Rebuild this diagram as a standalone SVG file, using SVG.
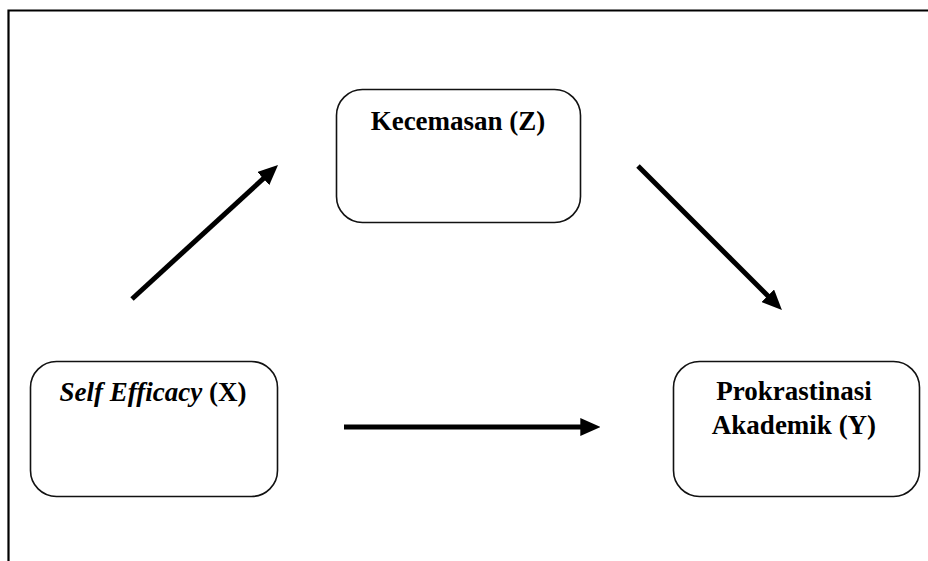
<svg xmlns="http://www.w3.org/2000/svg" width="928" height="561" viewBox="0 0 928 561">
<style>
.box{fill:#fff;stroke:#111;stroke-width:1.6}
.lbl{font-family:"Liberation Serif","Times New Roman",serif;font-size:27px;font-weight:bold;fill:#000}
.conn{stroke:#000;stroke-width:5;fill:none}
.frame{stroke:#000;stroke-width:2.2;fill:none}
</style>
<defs>
<marker id="ah" markerUnits="userSpaceOnUse" markerWidth="20" markerHeight="18" refX="6" refY="8" orient="auto" viewBox="0 0 18 16">
<path d="M0,0 L18,8 L0,16 Z" fill="#000"/>
</marker>
</defs>
<g id="frame">
<path class="frame" d="M928,10.5 H8.5 V561"/>
</g>
<g id="node-z">
<rect class="box" x="336.5" y="89.5" width="244" height="133" rx="26"/>
<text class="lbl" x="458" y="130" text-anchor="middle">Kecemasan (Z)</text>
</g>
<g id="node-x">
<rect class="box" x="30.5" y="361.5" width="247" height="135" rx="26"/>
<text class="lbl" x="153" y="401" text-anchor="middle"><tspan font-style="italic">Self Efficacy</tspan> (X)</text>
</g>
<g id="node-y">
<rect class="box" x="673.5" y="361.5" width="246" height="135" rx="26"/>
<text class="lbl" x="794" y="400" text-anchor="middle">Prokrastinasi</text>
<text class="lbl" x="794" y="434" text-anchor="middle">Akademik (Y)</text>
</g>
<g id="connectors">
<line class="conn" x1="132" y1="299" x2="268.2" y2="174.1" marker-end="url(#ah)"/>
<line class="conn" x1="638" y1="166" x2="772.5" y2="300.5" marker-end="url(#ah)"/>
<line class="conn" x1="344" y1="427" x2="587" y2="427" marker-end="url(#ah)"/>
</g>
</svg>
